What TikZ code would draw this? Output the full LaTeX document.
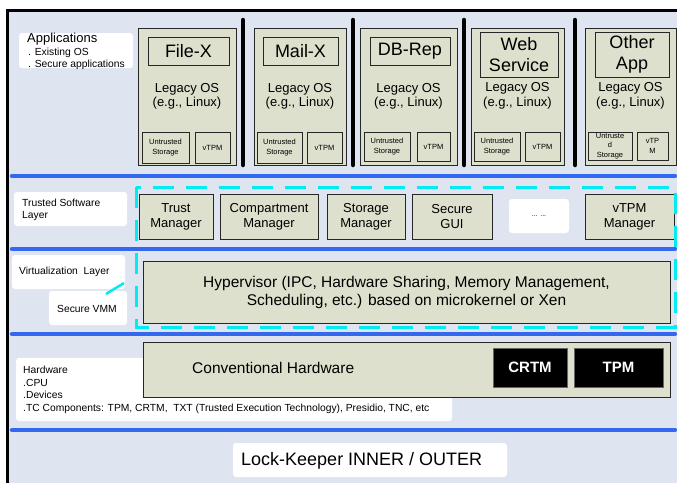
\documentclass[tikz,border=0pt]{standalone}
\usepackage{fontspec}
\setmainfont{Liberation Sans}
\definecolor{bgblue}{RGB}{222,229,241}
\definecolor{khaki}{RGB}{221,224,204}
\definecolor{barblue}{RGB}{52,104,238}
\definecolor{dcyan}{RGB}{0,236,240}
\newcommand\fsz[2]{\fontsize{#1}{#2}\selectfont}
\tikzset{
  rect/.style n args={4}{at={({(#1+#3)/2},{(#2+#4)/2})}, minimum width={(#3-#1)*1pt}, minimum height={(#4-#2)*1pt}, outer sep=0pt},
  lbl/.style={fill=white, rounded corners=3pt, inner sep=0pt},
  comp/.style={draw=black!85, fill=khaki, line width=0.9pt, inner sep=0pt, align=center},
  blk/.style={draw=black!60, fill=black, line width=0.9pt, inner sep=0pt, text=white, font=\fsz{15}{17}\bfseries},
  bluebar/.style={line width=4.5pt, draw=barblue, line cap=round},
  sepline/.style={line width=4.5pt, line cap=round, draw=black},
  txt/.style={inner sep=0pt, anchor=base west},
  lbltxt/.style={txt, font=\fsz{10.3}{12}},
  small/.style={font=\fsz{7.5}{9.5}},
  leg/.style={inner sep=0pt, align=center, font=\fsz{13}{14.5}},
  ttl/.style={font=\fsz{18}{21}},
  mid/.style={font=\fsz{13}{15}},
  cdash/.style={draw=dcyan, line width=3pt, dash pattern=on 21pt off 12pt},
}
\begin{document}
\begin{tikzpicture}[x=1pt,y=-1pt]
\useasboundingbox (0,0) rectangle (677,482);
\clip (0,0) rectangle (677,482);
\fill[white] (0,0) rectangle (677,482);
\draw[line width=3pt, fill=bgblue] (7.5,10.5) rectangle (700,500);

% left labels
\node[lbl, rect={19}{33}{133}{68}] (applbl) {};
\node[txt] (apptxt) at (27,42) {\fsz{13}{15}Applications};
\node[lbltxt] (appos) at (28,55) {. Existing OS};
\node[lbltxt] (appsec) at (28,67) {. Secure applications};

\node[lbl, rect={14}{192}{127}{226}] (tslbl) {};
\node[lbltxt] (ts1) at (22,206) {Trusted Software};
\node[lbltxt] (ts2) at (22,218) {Layer};

\node[lbl, rect={12}{255}{125}{289}] (vlbl) {};
\node[lbltxt] (vtxt) at (19,274) {Virtualization\ \ Layer};
\node[lbl, rect={49}{291}{127}{325}] (vmmlbl) {};
\node[lbltxt] (vmmtxt) at (57,312) {Secure VMM};

\node[lbl, rect={16}{358}{452}{421}] (hwlbl) {};
\node[lbltxt] (hw1) at (23,373) {Hardware};
\node[lbltxt] (hw2) at (23,386) {.CPU};
\node[lbltxt] (hw3) at (23,398) {.Devices};
\node[lbltxt] (hw4) at (23,411) {.TC Components: TPM, CRTM,\ \ TXT (Trusted Execution Technology), Presidio, TNC, etc};

\node[lbl, rect={233}{443}{507}{477}] (lklbl) {};
\node[txt] (lktxt) at (241,465) {\fsz{18}{21}Lock-Keeper INNER / OUTER};

% blue bars
\draw[bluebar] (12,176) -- (675,176);
\draw[bluebar] (12,249) -- (675,249);
\draw[bluebar] (12,334) -- (675,334);
\draw[bluebar] (12,430) -- (675,430);

% separators
\draw[sepline] (243,20) -- (243,165);
\draw[sepline] (353,20) -- (353,165);
\draw[sepline] (464,20) -- (464,165);
\draw[sepline] (575,20) -- (575,165);

% VMs
\node[comp, rect={138}{28}{236}{165}] (vm1) {};
\node[comp, ttl, rect={148}{37}{229}{65}] (t1) {File-X};
\node[leg] (l1) at (187,96.5) {Legacy OS\\(e.g., Linux)};
\node[comp, small, rect={142}{132}{189}{163}] (u1) {Untrusted\\Storage};
\node[comp, small, rect={195}{132}{230}{163}] (v1) {vTPM};

\node[comp, rect={254}{28}{346}{165}] (vm2) {};
\node[comp, ttl, rect={263}{37}{338}{65}] (t2) {Mail-X};
\node[leg] (l2) at (300,96.5) {Legacy OS\\(e.g., Linux)};
\node[comp, small, rect={257}{132}{302}{163}] (u2) {Untrusted\\Storage};
\node[comp, small, rect={307}{132}{342}{163}] (v2) {vTPM};

\node[comp, rect={360}{28}{457}{165}] (vm3) {};
\node[comp, ttl, rect={370}{37}{450}{65}] (t3) {DB-Rep};
\node[leg] (l3) at (408.5,96.5) {Legacy OS\\(e.g., Linux)};
\node[comp, small, rect={364}{132}{410}{161}] (u3) {Untrusted\\Storage};
\node[comp, small, rect={417}{132}{450}{161}] (v3) {vTPM};

\node[comp, rect={471}{28}{564}{165}] (vm4) {};
\node[comp, ttl, rect={480}{32}{558}{77}] (t4) {Web\\Service};
\node[leg] (l4) at (517.5,96) {Legacy OS\\(e.g., Linux)};
\node[comp, small, rect={474}{132}{520}{161}] (u4) {Untrusted\\Storage};
\node[comp, small, rect={525}{132}{560}{161}] (v4) {vTPM};

\node[comp, rect={585}{28}{676}{165}] (vm5) {};
\node[comp, ttl, rect={595}{32}{669}{77}] (t5) {Other\\App};
\node[leg] (l5) at (630.5,96) {Legacy OS\\(e.g., Linux)};
\node[comp, small, rect={588}{132}{632}{160}] (u5) {Untruste\\d\\Storage};
\node[comp, small, rect={637}{132}{668}{160}] (v5) {vTP\\M};

% trusted software layer
\node[comp, mid, rect={139}{194}{213}{239}] (trm) {Trust\\Manager};
\node[comp, mid, rect={220}{194}{318}{239}] (cpm) {Compartment\\Manager};
\node[comp, mid, rect={327}{194}{405}{239}] (stm) {Storage\\Manager};
\node[comp, mid, rect={412}{194}{492}{239}] (sgui) {Secure\\GUI};
\node[lbl, rect={509}{199}{569}{233}] (dots) {\fsz{7}{8}... ...};
\node[comp, mid, rect={585}{194}{674}{239}] (vtm) {vTPM\\Manager};

% hypervisor
\node[comp, rect={143}{261}{670}{323}, font=\fsz{15.5}{18}] (hyp) {Hypervisor (IPC, Hardware Sharing, Memory Management,\\Scheduling, etc.) based on microkernel or Xen};

% hardware
\node[comp, rect={143}{342}{670}{397}] (hw) {};
\node[txt] (hwtxt) at (192,373) {\fsz{15.5}{18}Conventional Hardware};
\node[blk, rect={493}{348}{567}{387}] (crtm) {CRTM};
\node[blk, rect={574}{348}{663}{387}] (tpm) {TPM};

% secure VMM dashed region
\draw[cdash] (136,187) rectangle (675,327);
\coordinate (vmmA) at (106,294);
\coordinate (vmmB) at (124,283);
\draw[draw=dcyan, line width=2.5pt] (vmmA) -- (vmmB);
\end{tikzpicture}
\end{document}
